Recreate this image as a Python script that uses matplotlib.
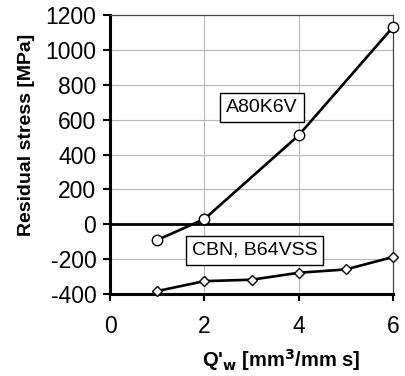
import numpy as np
import matplotlib
matplotlib.use('Agg')
import matplotlib.pyplot as plt

plt.rcParams['font.family'] = ['Liberation Sans', 'DejaVu Sans']
plt.rcParams['axes.unicode_minus'] = False

# ---------------- data ----------------
q_a80 = [1, 2, 4, 6]
s_a80 = [-90, 30, 510, 1130]

q_cbn = [1, 2, 3, 4, 5, 6]
s_cbn = [-383, -326, -318, -278, -259, -188]

xticks = [0, 2, 4, 6]
yticks = [-400, -200, 0, 200, 400, 600, 800, 1000, 1200]

# ---------------- plot ----------------
fig = plt.figure(figsize=(4.05, 3.76), dpi=100)
ax = fig.add_axes([0.272, 0.218, 0.698, 0.742])

ax.set_xlim(0, 6)
ax.set_ylim(-400, 1200)
ax.set_xticks(xticks)
ax.set_yticks(yticks)
ax.grid(True, color='#b8b8b8', linewidth=0.8)
ax.set_axisbelow(True)

ax.axhline(0, color='black', linewidth=2.0, zorder=2)

ax.plot(q_a80, s_a80, color='black', linewidth=1.9, marker='o', markersize=7.5,
        markerfacecolor='white', markeredgecolor='black', markeredgewidth=1.0, zorder=3,
        clip_on=False)
ax.plot(q_cbn, s_cbn, color='black', linewidth=1.9, marker='D', markersize=5.5,
        markerfacecolor='white', markeredgecolor='black', markeredgewidth=1.0, zorder=3,
        clip_on=False)

box = dict(boxstyle='square,pad=0.3', facecolor='white', edgecolor='black', linewidth=1.0)
ax.text(3.22, 670, 'A80K6V', fontsize=14, ha='center', va='center', bbox=box, zorder=4)
ax.text(3.07, -150, 'CBN, B64VSS', fontsize=14, ha='center', va='center', bbox=box, zorder=4)

for side in ['left', 'bottom']:
    ax.spines[side].set_linewidth(2.2)
for side in ['top', 'right']:
    ax.spines[side].set_linewidth(0.9)
    ax.spines[side].set_color('#444444')

ax.tick_params(axis='both', direction='out', length=5, width=1.5, labelsize=16.5)
ax.tick_params(axis='x', pad=10)
ax.tick_params(axis='y', pad=5)

ax.set_ylabel('Residual stress [MPa]', fontsize=14, fontweight='bold')
ax.yaxis.set_label_coords(-0.265, 0.571)
ax.set_xlabel("Q'$_\\mathbf{w}$ [mm$^\\mathbf{3}$/mm s]", fontsize=14.5, fontweight='bold')
ax.xaxis.set_label_coords(0.607, -0.19)

fig.savefig('out.png', dpi=100)
